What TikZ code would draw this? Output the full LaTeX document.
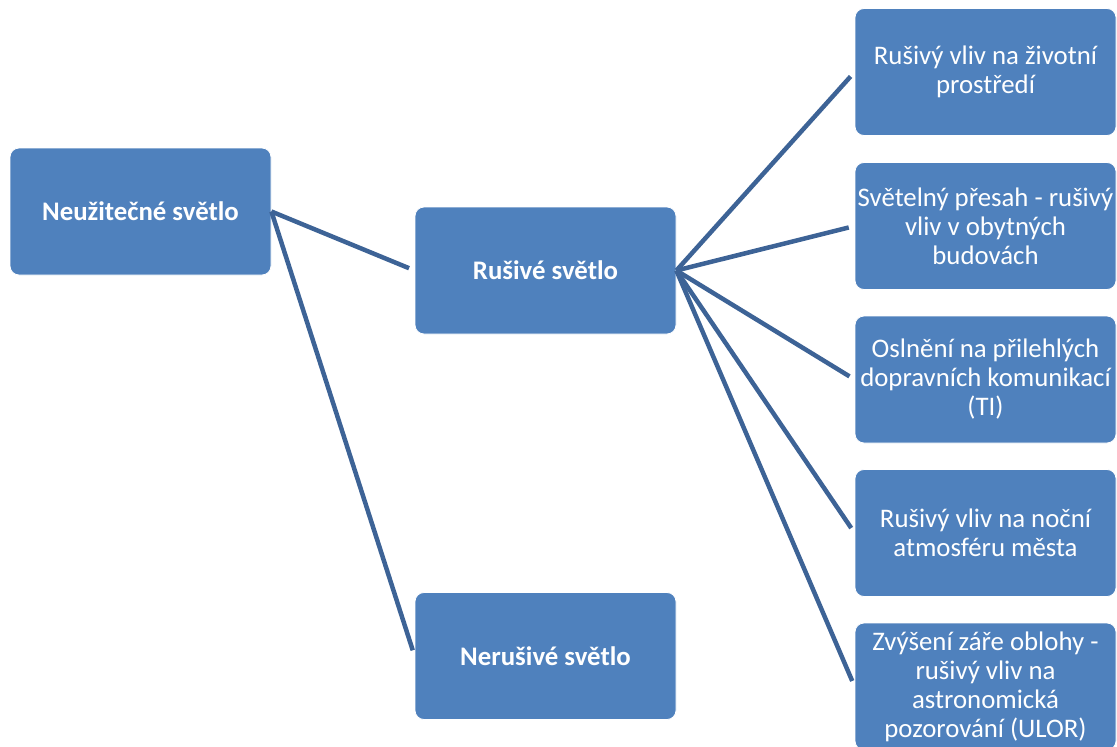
\documentclass[tikz,border=0pt]{standalone}
\usepackage{fontspec}
\setmainfont{Carlito}
\definecolor{boxblue}{RGB}{79,129,189}
\definecolor{lineblue}{RGB}{61,99,150}
\tikzset{
  blok/.style={draw=white, line width=0.8pt, fill=boxblue, rounded corners=9pt,
    minimum width=261pt, minimum height=127pt, inner sep=1pt,
    align=center, text=white, font=\fontsize{26.8}{29}\selectfont},
  hlavni/.style={blok, font=\fontsize{26.8}{29}\selectfont\bfseries},
  spoj/.style={draw=lineblue, line width=4.5pt, shorten >=6pt}
}
\begin{document}
\begin{tikzpicture}[x=1pt,y=-1pt]
        \useasboundingbox (0,0) rectangle (1117,747);
        %hlavni bloky
        \node[hlavni] (neuzitecne) at (140.5,211.5) {Neužitečné světlo};
        \node[hlavni] (rusive) at (545.5,270.5) {Rušivé světlo};
        \node[hlavni] (nerusive) at (545.5,656) {Nerušivé světlo};
        %dusledky rusiveho svetla
        \node[blok] (zivotni) at (985.5,72) {Rušivý vliv na životní\\prostředí};
        \node[blok] (presah) at (985.5,226) {Světelný přesah - rušivý\\vliv v obytných\\budovách};
        \node[blok] (osleneni) at (985.5,379.5) {Oslnění na přilehlých\\dopravních komunikací\\(TI)};
        \node[blok] (atmosfera) at (985.5,533) {Rušivý vliv na noční\\atmosféru města};
        \node[blok] (zare) at (985.5,686.5) {Zvýšení záře oblohy -\\rušivý vliv na\\astronomická\\pozorování (ULOR)};

        %spojnice
        \draw[spoj] (neuzitecne.east) -- (rusive.west);
        \draw[spoj] (neuzitecne.east) -- (nerusive.west);
        \draw[spoj] (rusive.east) -- (zivotni.west);
        \draw[spoj] (rusive.east) -- (presah.west);
        \draw[spoj] (rusive.east) -- (osleneni.west);
        \draw[spoj] (rusive.east) -- (atmosfera.west);
        \draw[spoj] (rusive.east) -- (zare.west);
    \end{tikzpicture}
\end{document}
